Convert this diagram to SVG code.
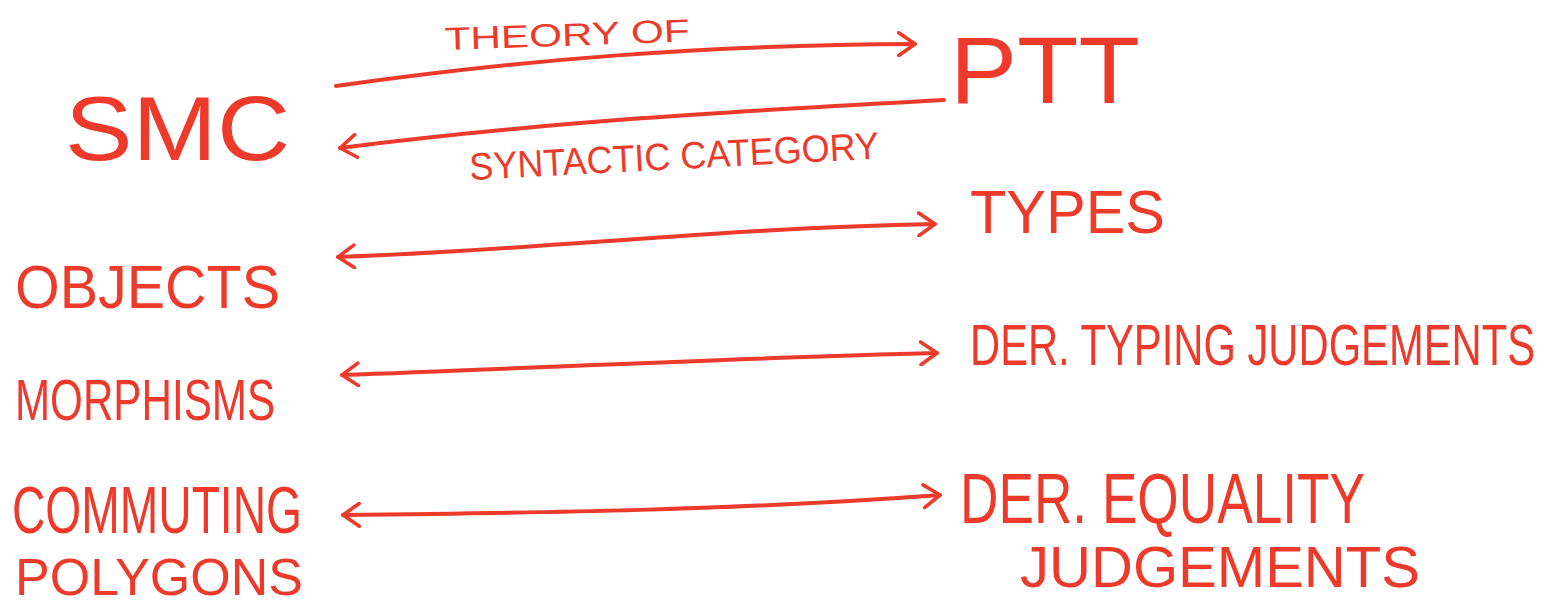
<svg xmlns="http://www.w3.org/2000/svg" width="1558" height="606" viewBox="0 0 1558 606">
  <style>
    .ink { fill: #ee3a2a; font-family: "Liberation Sans", Arial, sans-serif; }
    .edge { fill: none; stroke: #ee3a2a; stroke-width: 4; stroke-linecap: round; stroke-linejoin: round; }
  </style>
  <defs>
    <marker id="chev" viewBox="0 0 12 16" refX="11" refY="8" markerWidth="5" markerHeight="6.5" markerUnits="strokeWidth" orient="auto-start-reverse">
      <path d="M1,1 L11,8 L1,15" fill="none" stroke="#ee3a2a" stroke-width="2.2" stroke-linecap="round" stroke-linejoin="round"/>
    </marker>
  </defs>
  <rect width="1558" height="606" fill="#ffffff"/>

  <!-- connectors -->
  <g id="connectors">
    <path id="e-theory" class="edge" d="M336,86 C520,60 700,45 915,44" marker-end="url(#chev)"/>
    <path id="e-syntactic" class="edge" d="M944,100 C760,110 560,120 340,148" marker-end="url(#chev)"/>
    <path id="e-types" class="edge" d="M338,257 C540,250 720,228 935,224" marker-start="url(#chev)" marker-end="url(#chev)"/>
    <path id="e-morph" class="edge" d="M342,375 C540,368 730,358 937,353" marker-start="url(#chev)" marker-end="url(#chev)"/>
    <path id="e-eq" class="edge" d="M343,515 C540,513 740,510 940,495" marker-start="url(#chev)" marker-end="url(#chev)"/>
  </g>

  <!-- edge labels -->
  <g id="label-theory">
    <text class="ink" x="445" y="50" font-size="32" textLength="245" lengthAdjust="spacingAndGlyphs" transform="rotate(-2 445 50)">THEORY OF</text>
  </g>
  <g id="label-syntactic">
    <text class="ink" x="470" y="180" font-size="38" textLength="410" lengthAdjust="spacingAndGlyphs" transform="rotate(-3 470 180)">SYNTACTIC CATEGORY</text>
  </g>

  <!-- nodes -->
  <g id="node-smc">
    <text class="ink" x="65" y="160" font-size="90" textLength="225" lengthAdjust="spacingAndGlyphs">SMC</text>
  </g>
  <g id="node-ptt">
    <text class="ink" x="950" y="103" font-size="95" textLength="190" lengthAdjust="spacingAndGlyphs">PTT</text>
  </g>
  <g id="node-objects">
    <text class="ink" x="15" y="308" font-size="62" textLength="265" lengthAdjust="spacingAndGlyphs">OBJECTS</text>
  </g>
  <g id="node-types">
    <text class="ink" x="970" y="233" font-size="62" textLength="195" lengthAdjust="spacingAndGlyphs">TYPES</text>
  </g>
  <g id="node-morphisms">
    <text class="ink" x="15" y="420" font-size="58" textLength="260" lengthAdjust="spacingAndGlyphs">MORPHISMS</text>
  </g>
  <g id="node-typing">
    <!-- narrow run: small size stretched vertically to keep the tall lettering -->
    <text class="ink" x="0" y="0" font-size="42" textLength="565" lengthAdjust="spacingAndGlyphs" transform="translate(970 365) scale(1 1.38)">DER. TYPING JUDGEMENTS</text>
  </g>
  <g id="node-commuting">
    <text class="ink" x="12" y="533" font-size="66" textLength="290" lengthAdjust="spacingAndGlyphs">COMMUTING</text>
    <text class="ink" x="15" y="595" font-size="52" textLength="288" lengthAdjust="spacingAndGlyphs">POLYGONS</text>
  </g>
  <g id="node-equality">
    <text class="ink" x="960" y="523" font-size="70" textLength="405" lengthAdjust="spacingAndGlyphs">DER. EQUALITY</text>
    <text class="ink" x="1020" y="587" font-size="58" textLength="400" lengthAdjust="spacingAndGlyphs">JUDGEMENTS</text>
  </g>
</svg>
